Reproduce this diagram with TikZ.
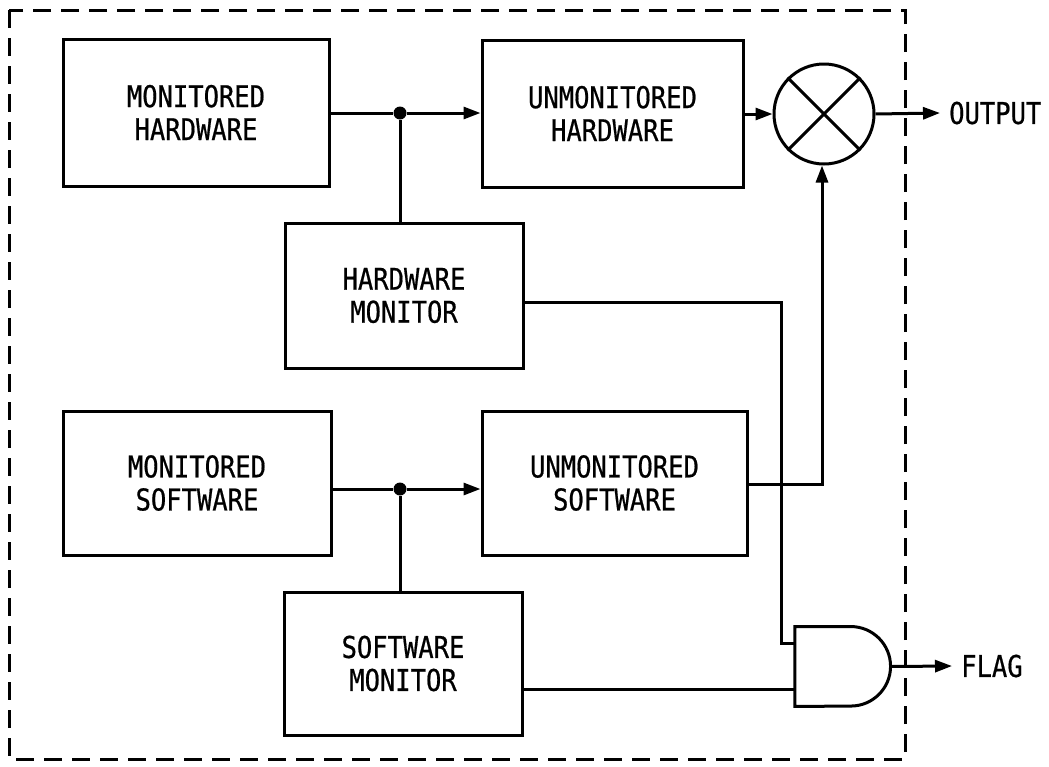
\documentclass[tikz,border=0pt]{standalone}
\usepackage{fontspec}
\usetikzlibrary{arrows.meta}
\newfontfamily\diagfont[FakeStretch=0.85,FakeBold=0.6]{DejaVu Sans Mono}
\begin{document}
\begin{tikzpicture}[x=1pt,y=-1pt,
  every node/.style={font=\diagfont\fontsize{30}{33}\selectfont},
  blk/.style={draw,line width=3pt,inner sep=0pt,align=center},
  wire/.style={line width=3pt},
  arr/.style={wire,-{Triangle[length=17pt,width=12pt]}},
  frame/.style={line width=3pt,dash pattern=on 18pt off 10pt},
  junc/.style={circle,fill=black,inner sep=0pt,minimum size=13pt}]
\useasboundingbox (0,0) rectangle (1049,766);
\draw[frame] (9,10) rectangle (905,759);

\node[blk,minimum width=266pt,minimum height=147pt] (mh) at (196,112.5) {MONITORED\\HARDWARE};
\node[blk,minimum width=261pt,minimum height=147pt] (uh) at (612.5,113.5) {UNMONITORED\\HARDWARE};
\node[blk,circle,minimum size=100pt] (mult) at (824,114) {};
\draw[wire] (mult.north east) -- (mult.south west);
\draw[wire] (mult.north west) -- (mult.south east);
\node[blk,minimum width=238pt,minimum height=145pt] (hm) at (404,295.5) {HARDWARE\\MONITOR};
\node[blk,minimum width=268pt,minimum height=144pt] (ms) at (197,483) {MONITORED\\SOFTWARE};
\node[blk,minimum width=265pt,minimum height=144pt] (us) at (614.5,483) {UNMONITORED\\SOFTWARE};
\node[blk,minimum width=238pt,minimum height=143pt] (sm) at (403,663.5) {SOFTWARE\\MONITOR};

\node[inner sep=0pt,minimum width=95.5pt,minimum height=79.5pt] (gate) at (842.75,666.5) {};
\draw[wire] (gate.north west) -- ++(56,0) arc[start angle=-90,end angle=90,radius=39.75] -- (gate.south west) -- cycle;
\coordinate (gin1) at ([yshift=23.5pt]gate.west);
\coordinate (gin2) at ([yshift=-22.5pt]gate.west);
\coordinate (gout) at (890.5,666.5);
\coordinate (hmbend) at (781,643);

\node[junc] (dot1) at (400,113) {};
\node[junc] (dot2) at (400,489) {};

\node[anchor=west,inner sep=0pt] (output) at (949,113) {OUTPUT};
\node[anchor=west,inner sep=0pt] (flag) at (961,666) {FLAG};

\draw[wire] (mh.east |- dot1) -- (dot1);
\draw[arr] (dot1) -- (uh.west |- dot1);
\draw[wire] (dot1) -- (dot1 |- hm.north);
\draw[arr] (uh.east |- mult) -- (mult.west);
\draw[arr] (mult.east) -- ([xshift=-9pt]output.west);

\draw[wire] (ms.east |- dot2) -- (dot2);
\draw[arr] (dot2) -- (us.west |- dot2);
\draw[wire] (dot2) -- (dot2 |- sm.north);

\draw[wire] ([yshift=-6.5pt]hm.east) -| (hmbend) -- (gin1);
\draw[arr] ([yshift=-1pt]us.east) -| ([xshift=-2pt]mult.south);
\draw[wire] (sm.east |- gin2) -- (gin2);
\draw[arr] (gout) -- ([xshift=-9pt]flag.west);
\end{tikzpicture}
\end{document}
